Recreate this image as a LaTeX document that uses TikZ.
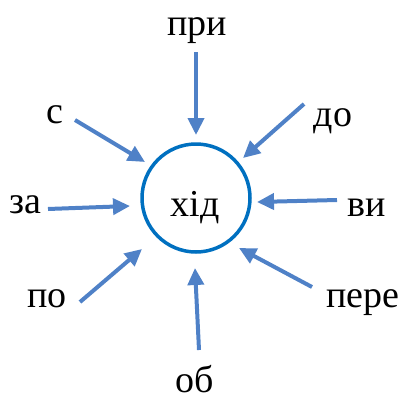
\documentclass[tikz,border=0pt]{standalone}
\usepackage{fontspec}
\setmainfont{Liberation Serif}
\usetikzlibrary{arrows.meta}
\definecolor{ringblue}{RGB}{0,112,192}
\definecolor{arrowblue}{RGB}{79,129,199}
\tikzset{word/.style = {anchor=base, inner sep=0pt, font=\fontsize{38}{40}\selectfont}}
\tikzset{feed/.style = {arrowblue, line width=4pt, -{Triangle[length=17pt,width=16pt]}}}

\begin{document}
\begin{tikzpicture}[x=1pt, y=-1pt]
\useasboundingbox (0,0) rectangle (401,399);
\node [circle, draw=ringblue, line width=3.5pt, minimum size=108pt, inner sep=0pt] (hid) at (196,198) {};
\node [word] (hidtext) at (195,216) {хід};
% prefixes and their arrows
\foreach \n/\t/\lx/\ly/\ax/\ay/\bx/\by in {
  pri/при/197/35/196/52/196/135,
  s/с/55/123/75/120/145/162,
  do/до/333/126/304/104/243/158,
  za/за/25/213/48/209/130/206,
  vy/ви/367/216/337/200/257/202,
  po/по/47/307/80/302/142/249,
  pere/пере/363/307/312/287/239/248,
  ob/об/195/392/199/350/195/268}
{
  \node [word] (\n) at (\lx,\ly) {\t};
  \coordinate (\n-a) at (\ax,\ay);
  \coordinate (\n-b) at (\bx,\by);
  \draw [feed] (\n-a) -- (\n-b);
}
\end{tikzpicture}
\end{document}
